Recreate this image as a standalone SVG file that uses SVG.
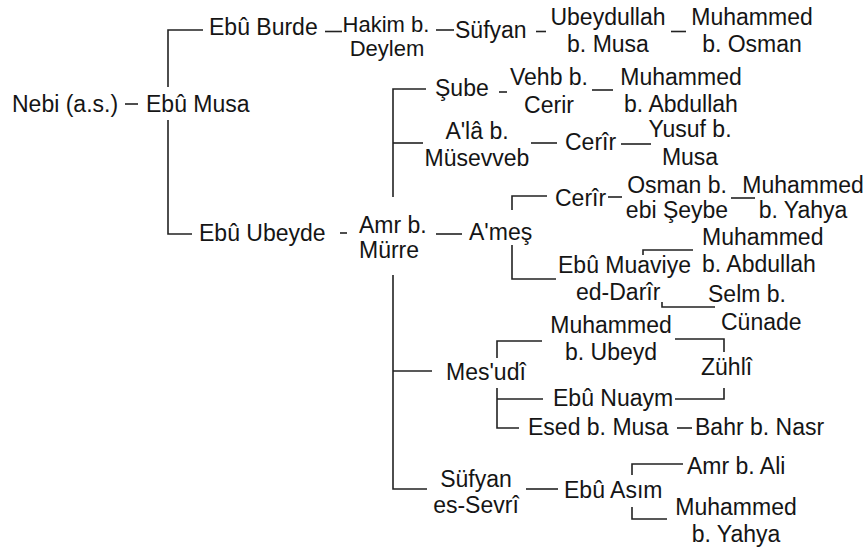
<svg xmlns="http://www.w3.org/2000/svg" width="868" height="549" viewBox="0 0 868 549">
<style>
text{font-family:"Liberation Sans",Arial,sans-serif;font-size:23px;fill:#151515}
.m{text-anchor:middle}
.t{font-size:22px}
.c path{fill:none;stroke:#222;stroke-width:1.6}
</style>
<rect width="868" height="549" fill="#fff"/>
<g class="c" id="connectors">
<path d="M125 104H138"/>
<path d="M203 30H168V87"/>
<path d="M168 120V234H192"/>
<path d="M325 31.5H342"/>
<path d="M436 30H454"/>
<path d="M536 31.5H546"/>
<path d="M671 31.5H686"/>
<path d="M340 233H347"/>
<path d="M436 234H462"/>
<path d="M393 197V89H426"/>
<path d="M393 143H423"/>
<path d="M393 275V489H427"/>
<path d="M393 371H432"/>
<path d="M499 92H507"/>
<path d="M592 90H613"/>
<path d="M531 143H557"/>
<path d="M621 144H651"/>
<path d="M547 196H512V210"/>
<path d="M512 245V279H556"/>
<path d="M608 197H622"/>
<path d="M731 198H755"/>
<path d="M643 255V250H693"/>
<path d="M662 302V307H715"/>
<path d="M542 341H497V358"/>
<path d="M497 388V428H519"/>
<path d="M497 399H543"/>
<path d="M675 339H724V352"/>
<path d="M675 399H724V388"/>
<path d="M677 428H692"/>
<path d="M526 489H558"/>
<path d="M683 464H632V475"/>
<path d="M632 507V519H667"/>
</g>
<g id="n1"><text x="12" y="112">Nebi (a.s.)</text></g>
<g id="n2"><text x="146" y="112">Ebû Musa</text></g>
<g id="n3"><text x="209" y="35">Ebû Burde</text></g>
<g id="n4"><text class="m t" x="386" y="32">Hakim b.</text><text class="m t" x="387" y="56">Deylem</text></g>
<g id="n5"><text x="455" y="38">Süfyan</text></g>
<g id="n6"><text class="m" x="608" y="25">Ubeydullah</text><text class="m" x="608" y="52">b. Musa</text></g>
<g id="n7"><text class="m" x="752" y="25">Muhammed</text><text class="m" x="752" y="52">b. Osman</text></g>
<g id="n8"><text x="199" y="241">Ebû Ubeyde</text></g>
<g id="n9"><text x="359" y="233">Amr b.</text><text x="359" y="258">Mürre</text></g>
<g id="n10"><text x="469" y="240">A'meş</text></g>
<g id="n11"><text x="435" y="96">Şube</text></g>
<g id="n12"><text class="m" x="549" y="85">Vehb b.</text><text class="m" x="549" y="113">Cerir</text></g>
<g id="n13"><text class="m" x="681" y="85">Muhammed</text><text class="m" x="681" y="112">b. Abdullah</text></g>
<g id="n14"><text class="m" x="477" y="139">A'lâ b.</text><text class="m" x="477" y="166">Müsevveb</text></g>
<g id="n15"><text x="565" y="150">Cerîr</text></g>
<g id="n16"><text class="m" x="690" y="137">Yusuf b.</text><text class="m" x="690" y="165">Musa</text></g>
<g id="n17"><text x="555" y="206">Cerîr</text></g>
<g id="n18"><text class="m" x="677" y="193">Osman b.</text><text class="m" x="677" y="218">ebi Şeybe</text></g>
<g id="n19"><text class="m" x="803" y="193">Muhammed</text><text class="m" x="803" y="218">b. Yahya</text></g>
<g id="n20"><text x="558" y="273">Ebû Muaviye</text><text x="576" y="300">ed-Darîr</text></g>
<g id="n21"><text x="702" y="245">Muhammed</text><text x="702" y="272">b. Abdullah</text></g>
<g id="n22"><text x="708" y="302">Selm b.</text><text x="721" y="330">Cünade</text></g>
<g id="n23"><text class="m" x="611" y="333">Muhammed</text><text class="m" x="611" y="360">b. Ubeyd</text></g>
<g id="n24"><text x="446" y="380">Mes'udî</text></g>
<g id="n25"><text x="701" y="375">Zühlî</text></g>
<g id="n26"><text x="553" y="406">Ebû Nuaym</text></g>
<g id="n27"><text x="528" y="435">Esed b. Musa</text></g>
<g id="n28"><text x="695" y="435">Bahr b. Nasr</text></g>
<g id="n29"><text class="m" x="476" y="487">Süfyan</text><text class="m" x="476" y="513">es-Sevrî</text></g>
<g id="n30"><text x="564" y="498">Ebû Asım</text></g>
<g id="n31"><text x="687" y="474">Amr b. Ali</text></g>
<g id="n32"><text class="m" x="736" y="515">Muhammed</text><text class="m" x="736" y="542">b. Yahya</text></g>
</svg>
